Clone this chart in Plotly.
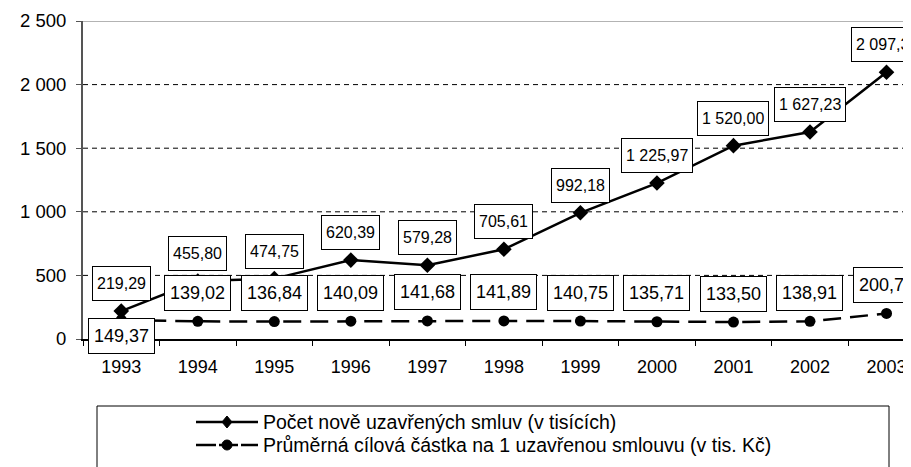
import plotly.graph_objects as go

years = ["1993", "1994", "1995", "1996", "1997", "1998", "1999", "2000", "2001", "2002", "2003"]
pocet = [219.29, 455.80, 474.75, 620.39, 579.28, 705.61, 992.18, 1225.97, 1520.00, 1627.23, 2097.34]
prumer = [149.37, 139.02, 136.84, 140.09, 141.68, 141.89, 140.75, 135.71, 133.50, 138.91, 200.79]
y_ticks = [0, 500, 1000, 1500, 2000, 2500]
name1 = "Počet nově uzavřených smluv (v tisících)"
name2 = "Průměrná cílová částka na 1 uzavřenou smlouvu (v tis. Kč)"

FONT = "Liberation Sans, Arial, sans-serif"
OFF = 8  # page body margin of the browser
W, H = 911 - OFF, 467 - OFF
L, R, T = 83 - OFF, 0, 21 - OFF
B = H - (339 - OFF)
PW, PH = W - L - R, H - T - B


def fmt(v, dec=2):
    s = f"{v:,.{dec}f}" if dec else f"{v:,.0f}"
    return s.replace(",", " ").replace(".", ",")


def px2paper(px, py):
    """reference-screenshot pixel -> paper coordinates"""
    return (px - OFF - L) / PW, (H - B - (py - OFF)) / PH


fig = go.Figure()

fig.add_trace(go.Scatter(
    x=years, y=pocet, mode="lines+markers", name=name1,
    line=dict(color="black", width=2.5),
    marker=dict(symbol="diamond", size=12, color="black"),
    showlegend=False, cliponaxis=False,
))
fig.add_trace(go.Scatter(
    x=years, y=prumer, mode="lines+markers", name=name2,
    line=dict(color="black", width=2.5, dash="18px,9px"),
    marker=dict(symbol="circle", size=11, color="black"),
    showlegend=False, cliponaxis=False,
))

annotations = []
shapes = []

# data labels (category axis positions given as category index)
for i, v in enumerate(pocet):
    annotations.append(dict(
        x=i, y=v, xref="x", yref="y", text=fmt(v), showarrow=False,
        yshift=27.5, font=dict(family=FONT, size=16, color="black"),
        bgcolor="white", bordercolor="black", borderwidth=1, borderpad=4,
        height=25, valign="middle",
    ))
for i, v in enumerate(prumer):
    annotations.append(dict(
        x=i, y=v, xref="x", yref="y", text=fmt(v), showarrow=False,
        yshift=(-15.5 if i == 0 else 28.5), font=dict(family=FONT, size=18, color="black"),
        bgcolor="white", bordercolor="black", borderwidth=1, borderpad=5,
        height=24, valign="middle",
    ))

# gridlines (dashed) at inner ticks
for t in y_ticks[1:-1]:
    shapes.append(dict(type="line", xref="paper", yref="y", x0=0, x1=1, y0=t, y1=t,
                       line=dict(color="black", width=1, dash="5px,4px"), layer="below"))
# top border of plot area
shapes.append(dict(type="line", xref="paper", yref="y", x0=0, x1=1, y0=y_ticks[-1], y1=y_ticks[-1],
                   line=dict(color="#9a9a9a", width=1.5), layer="below"))

# legend box
bx0, by0 = px2paper(97, 406)
bx1, by1 = px2paper(889, 480)
shapes.append(dict(type="rect", xref="paper", yref="paper", x0=bx0, x1=bx1, y0=by1, y1=by0,
                   line=dict(color="black", width=1), fillcolor="white", layer="below"))
for row, (name, dash, sym) in enumerate([(name1, "solid", "diamond"), (name2, "dash", "circle")]):
    py = 422 + row * 23
    if dash == "solid":
        segs = [(196, 258)]
    else:
        segs = [(196, 216), (219, 238), (241, 258)]
    for a, b in segs:
        lx0, ly = px2paper(a, py)
        lx1, _ = px2paper(b, py)
        shapes.append(dict(type="line", xref="paper", yref="paper", x0=lx0, x1=lx1, y0=ly, y1=ly,
                           line=dict(color="black", width=2.5)))
    cx = 227
    if sym == "diamond":
        pts = [(cx, py - 6), (cx + 5, py), (cx, py + 6), (cx - 5, py)]
        path = "M " + " L ".join(f"{px2paper(a, b)[0]:.5f},{px2paper(a, b)[1]:.5f}" for a, b in pts) + " Z"
        shapes.append(dict(type="path", xref="paper", yref="paper", path=path,
                           fillcolor="black", line=dict(color="black", width=1)))
    else:
        x0, y0 = px2paper(cx - 5, py + 5)
        x1, y1 = px2paper(cx + 5, py - 5)
        shapes.append(dict(type="circle", xref="paper", yref="paper", x0=x0, x1=x1, y0=y0, y1=y1,
                           fillcolor="black", line=dict(color="black", width=1)))
    tx, ty = px2paper(261, py)
    annotations.append(dict(x=tx, y=ty, xref="paper", yref="paper", text=name, showarrow=False,
                            xanchor="left", yanchor="middle",
                            font=dict(family=FONT, size=19.5, color="black")))

fig.update_layout(
    width=W, height=H,
    margin=dict(l=L, r=R, t=T, b=B, pad=0, autoexpand=False),
    paper_bgcolor="white", plot_bgcolor="white",
    font=dict(family=FONT, size=18, color="black"),
    showlegend=False,
    xaxis=dict(
        type="category", categoryorder="array", categoryarray=years,
        range=[-0.5, 10.32], tickson="boundaries", automargin=False,
        showgrid=False, zeroline=False,
        showline=True, linecolor="black", linewidth=1.5,
        ticks="outside", ticklen=5, tickcolor="black", tickwidth=1,
        tickfont=dict(family=FONT, size=18, color="black"),
        ticklabelstandoff=11,
    ),
    yaxis=dict(
        range=[0, 2500], tickvals=y_ticks, ticktext=[fmt(t, 0) for t in y_ticks],
        showgrid=False, zeroline=False, automargin=False,
        showline=True, linecolor="#555555", linewidth=2,
        ticks="outside", ticklen=5, tickcolor="#555555", tickwidth=1,
        tickfont=dict(family=FONT, size=18.5, color="black"),
        ticklabelstandoff=6,
    ),
    annotations=annotations,
    shapes=shapes,
)

fig.write_html("out.html")
